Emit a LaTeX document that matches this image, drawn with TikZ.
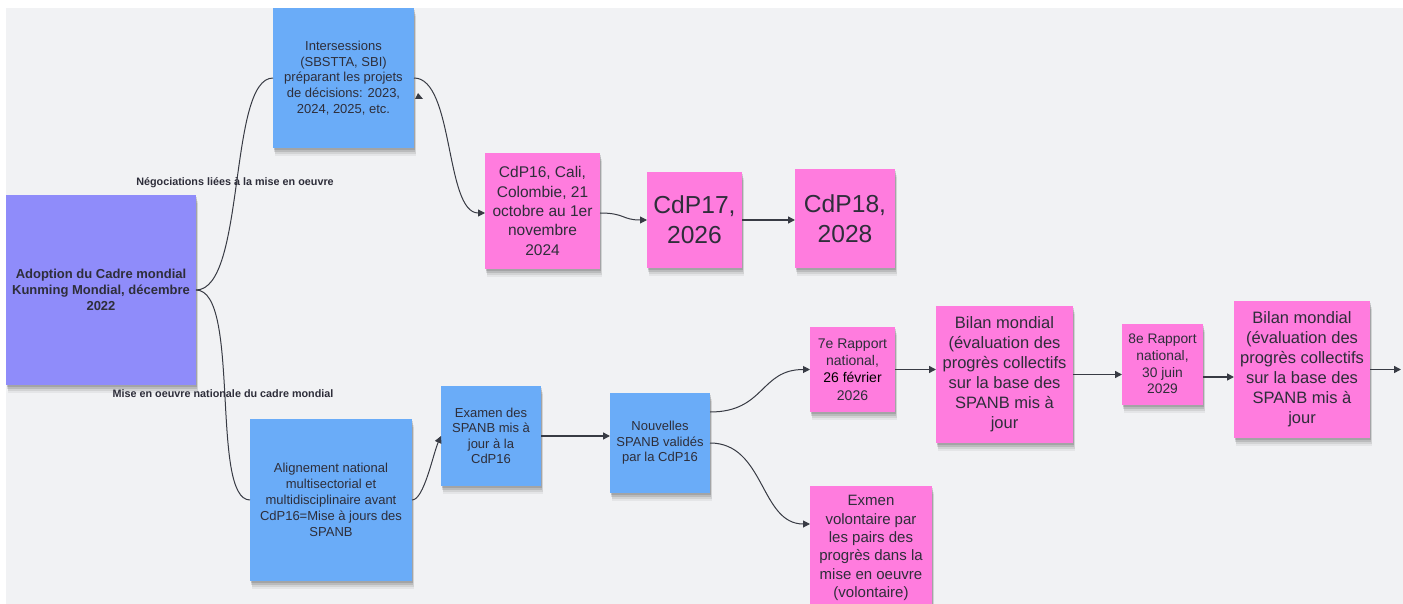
\documentclass[tikz,border=0pt]{standalone}
\usepackage{fontspec}
\setmainfont{Liberation Sans}
\usetikzlibrary{arrows.meta,shadows}
\definecolor{bg}{HTML}{F1F2F4}
\definecolor{purp}{HTML}{8F8CFA}
\definecolor{blu}{HTML}{6AACF8}
\definecolor{pnk}{HTML}{FF7CDE}
\definecolor{txt}{HTML}{2E2E3A}
\definecolor{ln}{HTML}{383B44}
\begin{document}
\begin{tikzpicture}[x=1pt,y=-1pt,
  note/.style={inner sep=0pt, outer sep=0pt, align=center, text=txt,
    drop shadow={shadow xshift=2pt, shadow yshift=-8pt, fill=black, opacity=0.05},
    drop shadow={shadow xshift=1.5pt, shadow yshift=-6pt, fill=black, opacity=0.08},
    drop shadow={shadow xshift=1pt, shadow yshift=-4pt, fill=black, opacity=0.11},
    drop shadow={shadow xshift=0.5pt, shadow yshift=-2pt, fill=black, opacity=0.12}},
  sz/.style 2 args={minimum width=#1pt, minimum height=#2pt},
  fsz/.style 2 args={font=\fontsize{#1}{#2}\selectfont},
  purpnote/.style={note, fill=purp},
  bluenote/.style={note, fill=blu},
  pinknote/.style={note, fill=pnk},
  curve/.style={draw=ln, line width=1pt},
  carr/.style={curve, -{Triangle[length=7pt,width=7pt]}},
  arr/.style={draw=ln, line width=1.5pt, -{Triangle[length=7pt,width=7pt]}},
  lab/.style={font=\fontsize{10.8}{13}\selectfont\bfseries, text=txt, inner sep=0pt}
]
\fill[white] (0,0) rectangle (1403,604);
\fill[bg] (6,8) rectangle (1403,604);
\useasboundingbox (0,0) rectangle (1403,604);
\begin{scope}
\clip (6,8) rectangle (1403,604);

% nodes
\node[purpnote, sz={190}{190}, font=\fontsize{13}{15.7}\selectfont\bfseries] (adopt) at (101,290)
  {Adoption du Cadre mondial\\Kunming Mondial, décembre\\2022};
\node[bluenote, sz={141}{140}, fsz={13}{15.7}] (inter) at (343.5,78)
  {Intersessions\\(SBSTTA, SBI)\\préparant les projets\\de décisions: 2023,\\2024, 2025, etc.};
\node[pinknote, sz={115}{116}, fsz={15.5}{19.3}] (cdp16) at (542.5,211)
  {CdP16, Cali,\\Colombie, 21\\octobre au 1er\\novembre\\2024};
\node[pinknote, sz={95}{96}, fsz={24.6}{30}] (cdp17) at (694.5,220) {CdP17,\\2026};
\node[pinknote, sz={100}{99}, fsz={24.6}{30}] (cdp18) at (845,218.5) {CdP18,\\2028};
\node[bluenote, sz={162}{162}, fsz={13}{16}] (align) at (331,500)
  {Alignement national\\multisectorial et\\multidisciplinaire avant\\CdP16=Mise à jours des\\SPANB};
\node[bluenote, sz={100}{100}, fsz={13}{15.5}] (exam) at (491,436)
  {Examen des\\SPANB mis à\\jour à la\\CdP16};
\node[bluenote, sz={100}{100}, fsz={13}{15.5}] (nouv) at (660,443)
  {Nouvelles\\SPANB validés\\par la CdP16};
\node[pinknote, sz={85}{85}, fsz={14}{17.3}] (r7) at (852.5,369.5)
  {7e Rapport\\national,\\{\color{black}26 février}\\2026};
\node[pinknote, sz={137}{137}, fsz={16.5}{20}] (bil1) at (1004.5,374.5)
  {Bilan mondial\\(évaluation des\\progrès collectifs\\sur la base des\\SPANB mis à\\jour};
\node[pinknote, sz={81}{81}, fsz={13.8}{16.8}] (r8) at (1162.5,364)
  {8e Rapport\\national,\\30 juin\\2029};
\node[pinknote, sz={136}{137}, fsz={16.5}{20}] (bil2) at (1302,369.5)
  {Bilan mondial\\(évaluation des\\progrès collectifs\\sur la base des\\SPANB mis à\\jour};
\node[pinknote, sz={122}{124}, fsz={15}{18.3}] (exmen) at (871,548)
  {Exmen\\volontaire par\\les pairs des\\progrès dans la\\mise en oeuvre\\(volontaire)};
\coordinate (out) at (1401,369.5);

% connectors
\draw[curve] (adopt.east) .. controls +(50,0) and +(-45,0) .. (inter.west);
\draw[curve] (adopt.east) .. controls +(45,0) and +(-40,0) .. (align.west);
\draw[carr] (inter.east) .. controls +(40,0) and +(-40,0) .. ([yshift=-2pt]cdp16.west);
\draw[carr] ([yshift=-2pt]cdp16.east) .. controls +(25,0) and +(-25,0) .. (cdp17.west);
\draw[arr] (cdp17.east) -- (cdp17.east -| cdp18.west);
\draw[carr] (align.east) .. controls +(12,0) and +(-8,18) .. (exam.west);
\draw[arr] (exam.east) -- (exam.east -| nouv.west);
\draw[carr] ([yshift=31pt]nouv.east) .. controls +(55,0) and +(-50,0) .. (r7.west);
\draw[carr] (nouv.east) .. controls +(55,0) and +(-50,0) .. ([yshift=24pt]exmen.west);
\draw[arr] (r7.east) -- (r7.east -| bil1.west);
\draw[arr] (bil1.east) -- (bil1.east -| r8.west);
\draw[arr] ([yshift=-13pt]r8.east) -- ([yshift=-13pt]r8.east -| bil2.west);
\draw[arr] (bil2.east) -- (out);

% stray arrow tip
\fill[ln] (415,99) -- (423,99) -- (418,93) -- cycle;

% edge labels
\node[lab] (l1) at (235,183) {Négociations liées à la mise en oeuvre};
\node[lab] (l2) at (223,394) {Mise en oeuvre nationale du cadre mondial};
\end{scope}
\end{tikzpicture}
\end{document}
